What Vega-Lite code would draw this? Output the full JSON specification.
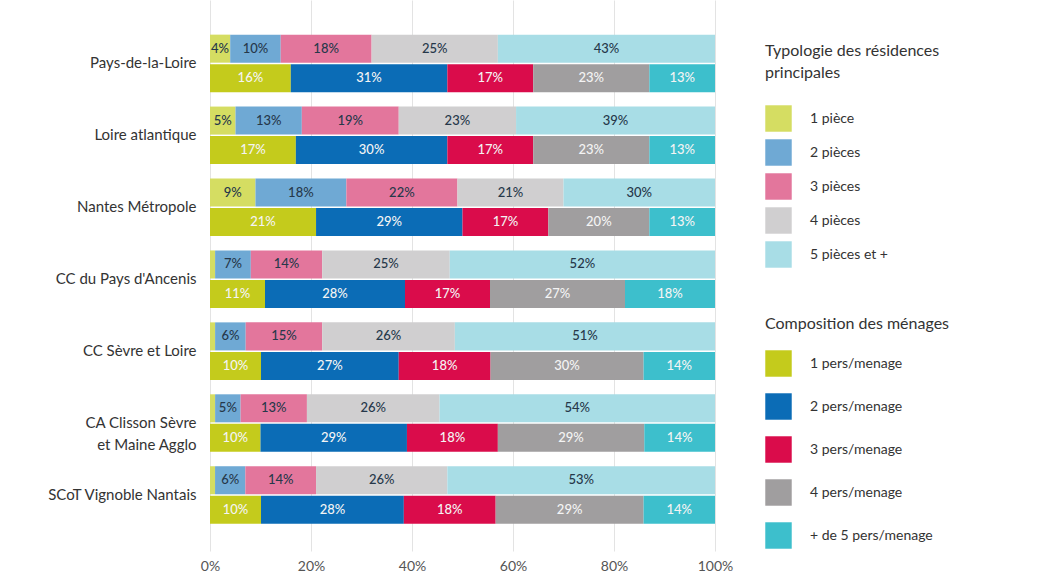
{
  "$schema": "https://vega.github.io/schema/vega-lite/v6.json",
  "width": 505,
  "height": 551,
  "autosize": {"type": "none"},
  "padding": {"left": 210, "top": 0, "right": 323, "bottom": 23},
  "background": "white",
  "config": {"view": {"stroke": null}, "font": "Lato"},
  "datasets": {
    "typo": [
      {"c": "Pays-de-la-Loire", "k": "1 pièce", "o": 1, "v": 0.04},
      {"c": "Pays-de-la-Loire", "k": "2 pièces", "o": 2, "v": 0.10},
      {"c": "Pays-de-la-Loire", "k": "3 pièces", "o": 3, "v": 0.18},
      {"c": "Pays-de-la-Loire", "k": "4 pièces", "o": 4, "v": 0.25},
      {"c": "Pays-de-la-Loire", "k": "5 pièces et +", "o": 5, "v": 0.43},
      {"c": "Loire atlantique", "k": "1 pièce", "o": 1, "v": 0.05},
      {"c": "Loire atlantique", "k": "2 pièces", "o": 2, "v": 0.13},
      {"c": "Loire atlantique", "k": "3 pièces", "o": 3, "v": 0.19},
      {"c": "Loire atlantique", "k": "4 pièces", "o": 4, "v": 0.23},
      {"c": "Loire atlantique", "k": "5 pièces et +", "o": 5, "v": 0.39},
      {"c": "Nantes Métropole", "k": "1 pièce", "o": 1, "v": 0.09},
      {"c": "Nantes Métropole", "k": "2 pièces", "o": 2, "v": 0.18},
      {"c": "Nantes Métropole", "k": "3 pièces", "o": 3, "v": 0.22},
      {"c": "Nantes Métropole", "k": "4 pièces", "o": 4, "v": 0.21},
      {"c": "Nantes Métropole", "k": "5 pièces et +", "o": 5, "v": 0.30},
      {"c": "CC du Pays d'Ancenis", "k": "1 pièce", "o": 1, "v": 0.01},
      {"c": "CC du Pays d'Ancenis", "k": "2 pièces", "o": 2, "v": 0.07},
      {"c": "CC du Pays d'Ancenis", "k": "3 pièces", "o": 3, "v": 0.14},
      {"c": "CC du Pays d'Ancenis", "k": "4 pièces", "o": 4, "v": 0.25},
      {"c": "CC du Pays d'Ancenis", "k": "5 pièces et +", "o": 5, "v": 0.52},
      {"c": "CC Sèvre et Loire", "k": "1 pièce", "o": 1, "v": 0.01},
      {"c": "CC Sèvre et Loire", "k": "2 pièces", "o": 2, "v": 0.06},
      {"c": "CC Sèvre et Loire", "k": "3 pièces", "o": 3, "v": 0.15},
      {"c": "CC Sèvre et Loire", "k": "4 pièces", "o": 4, "v": 0.26},
      {"c": "CC Sèvre et Loire", "k": "5 pièces et +", "o": 5, "v": 0.51},
      {"c": "CA Clisson Sèvre et Maine Agglo", "k": "1 pièce", "o": 1, "v": 0.01},
      {"c": "CA Clisson Sèvre et Maine Agglo", "k": "2 pièces", "o": 2, "v": 0.05},
      {"c": "CA Clisson Sèvre et Maine Agglo", "k": "3 pièces", "o": 3, "v": 0.13},
      {"c": "CA Clisson Sèvre et Maine Agglo", "k": "4 pièces", "o": 4, "v": 0.26},
      {"c": "CA Clisson Sèvre et Maine Agglo", "k": "5 pièces et +", "o": 5, "v": 0.54},
      {"c": "SCoT Vignoble Nantais", "k": "1 pièce", "o": 1, "v": 0.01},
      {"c": "SCoT Vignoble Nantais", "k": "2 pièces", "o": 2, "v": 0.06},
      {"c": "SCoT Vignoble Nantais", "k": "3 pièces", "o": 3, "v": 0.14},
      {"c": "SCoT Vignoble Nantais", "k": "4 pièces", "o": 4, "v": 0.26},
      {"c": "SCoT Vignoble Nantais", "k": "5 pièces et +", "o": 5, "v": 0.53}
    ],
    "compo": [
      {"c": "Pays-de-la-Loire", "k": "1 pers/menage", "o": 1, "v": 0.16},
      {"c": "Pays-de-la-Loire", "k": "2 pers/menage", "o": 2, "v": 0.31},
      {"c": "Pays-de-la-Loire", "k": "3 pers/menage", "o": 3, "v": 0.17},
      {"c": "Pays-de-la-Loire", "k": "4 pers/menage", "o": 4, "v": 0.23},
      {"c": "Pays-de-la-Loire", "k": "+ de 5 pers/menage", "o": 5, "v": 0.13},
      {"c": "Loire atlantique", "k": "1 pers/menage", "o": 1, "v": 0.17},
      {"c": "Loire atlantique", "k": "2 pers/menage", "o": 2, "v": 0.30},
      {"c": "Loire atlantique", "k": "3 pers/menage", "o": 3, "v": 0.17},
      {"c": "Loire atlantique", "k": "4 pers/menage", "o": 4, "v": 0.23},
      {"c": "Loire atlantique", "k": "+ de 5 pers/menage", "o": 5, "v": 0.13},
      {"c": "Nantes Métropole", "k": "1 pers/menage", "o": 1, "v": 0.21},
      {"c": "Nantes Métropole", "k": "2 pers/menage", "o": 2, "v": 0.29},
      {"c": "Nantes Métropole", "k": "3 pers/menage", "o": 3, "v": 0.17},
      {"c": "Nantes Métropole", "k": "4 pers/menage", "o": 4, "v": 0.20},
      {"c": "Nantes Métropole", "k": "+ de 5 pers/menage", "o": 5, "v": 0.13},
      {"c": "CC du Pays d'Ancenis", "k": "1 pers/menage", "o": 1, "v": 0.11},
      {"c": "CC du Pays d'Ancenis", "k": "2 pers/menage", "o": 2, "v": 0.28},
      {"c": "CC du Pays d'Ancenis", "k": "3 pers/menage", "o": 3, "v": 0.17},
      {"c": "CC du Pays d'Ancenis", "k": "4 pers/menage", "o": 4, "v": 0.27},
      {"c": "CC du Pays d'Ancenis", "k": "+ de 5 pers/menage", "o": 5, "v": 0.18},
      {"c": "CC Sèvre et Loire", "k": "1 pers/menage", "o": 1, "v": 0.10},
      {"c": "CC Sèvre et Loire", "k": "2 pers/menage", "o": 2, "v": 0.27},
      {"c": "CC Sèvre et Loire", "k": "3 pers/menage", "o": 3, "v": 0.18},
      {"c": "CC Sèvre et Loire", "k": "4 pers/menage", "o": 4, "v": 0.30},
      {"c": "CC Sèvre et Loire", "k": "+ de 5 pers/menage", "o": 5, "v": 0.14},
      {"c": "CA Clisson Sèvre et Maine Agglo", "k": "1 pers/menage", "o": 1, "v": 0.10},
      {"c": "CA Clisson Sèvre et Maine Agglo", "k": "2 pers/menage", "o": 2, "v": 0.29},
      {"c": "CA Clisson Sèvre et Maine Agglo", "k": "3 pers/menage", "o": 3, "v": 0.18},
      {"c": "CA Clisson Sèvre et Maine Agglo", "k": "4 pers/menage", "o": 4, "v": 0.29},
      {"c": "CA Clisson Sèvre et Maine Agglo", "k": "+ de 5 pers/menage", "o": 5, "v": 0.14},
      {"c": "SCoT Vignoble Nantais", "k": "1 pers/menage", "o": 1, "v": 0.10},
      {"c": "SCoT Vignoble Nantais", "k": "2 pers/menage", "o": 2, "v": 0.28},
      {"c": "SCoT Vignoble Nantais", "k": "3 pers/menage", "o": 3, "v": 0.18},
      {"c": "SCoT Vignoble Nantais", "k": "4 pers/menage", "o": 4, "v": 0.29},
      {"c": "SCoT Vignoble Nantais", "k": "+ de 5 pers/menage", "o": 5, "v": 0.14}
    ]
  },
  "layer": [
    {
      "data": {"name": "typo"},
      "mark": {"type": "bar"},
      "encoding": {
        "y": {"field": "c", "type": "nominal",
          "scale": {"domain": ["Pays-de-la-Loire", "Loire atlantique", "Nantes Métropole", "CC du Pays d'Ancenis", "CC Sèvre et Loire", "CA Clisson Sèvre et Maine Agglo", "SCoT Vignoble Nantais"], "paddingInner": 0.2, "paddingOuter": 0.43, "align": 0.56},
          "axis": {"title": null, "domain": false, "ticks": false, "labelFontSize": 15, "labelColor": "#333", "labelPadding": 14, "labelLineHeight": 22,
            "labelExpr": "datum.label == 'CA Clisson Sèvre et Maine Agglo' ? ['CA Clisson Sèvre', 'et Maine Agglo'] : datum.label"}},
        "yOffset": {"datum": "T", "type": "nominal", "scale": {"domain": ["T", "C"], "paddingInner": 0.05}},
        "x": {"field": "v", "type": "quantitative", "stack": "normalize",
          "axis": {"title": null, "format": ".0%", "values": [0, 0.2, 0.4, 0.6, 0.8, 1], "grid": true, "gridColor": "#e3e3e3", "domain": false, "ticks": false, "labelFontSize": 14, "labelColor": "#555", "labelPadding": 8, "labelFlush": false}},
        "order": {"field": "o"},
        "color": {"field": "k", "type": "nominal",
          "scale": {"domain": ["1 pièce", "2 pièces", "3 pièces", "4 pièces", "5 pièces et +"], "range": ["#d5dd62", "#6fa9d4", "#e3769c", "#d0cfd0", "#a8dde6"]},
          "legend": {"title": ["Typologie des résidences", "principales"], "orient": "none", "legendX": 555, "legendY": 43, "symbolType": "square", "symbolSize": 700, "symbolStrokeWidth": 0, "symbolOpacity": 1, "rowPadding": 7, "labelFontSize": 14, "labelColor": "#333", "labelOffset": 18, "titleFontSize": 16, "titleFontWeight": "normal", "titleColor": "#333", "titleLineHeight": 22, "titlePadding": 24, "titleLimit": 320}}
      }
    },
    {
      "data": {"name": "compo"},
      "mark": {"type": "bar"},
      "encoding": {
        "y": {"field": "c", "type": "nominal"},
        "yOffset": {"datum": "C", "type": "nominal"},
        "x": {"field": "v", "type": "quantitative", "stack": "normalize"},
        "order": {"field": "o"},
        "color": {"field": "k", "type": "nominal",
          "scale": {"domain": ["1 pers/menage", "2 pers/menage", "3 pers/menage", "4 pers/menage", "+ de 5 pers/menage"], "range": ["#c4cb1c", "#0b6cb6", "#da0c4b", "#a09e9f", "#3dbfcc"]},
          "legend": {"title": "Composition des ménages", "orient": "none", "legendX": 555, "legendY": 316, "symbolType": "square", "symbolSize": 700, "symbolStrokeWidth": 0, "symbolOpacity": 1, "rowPadding": 16, "labelFontSize": 14, "labelColor": "#333", "labelOffset": 18, "titleFontSize": 16, "titleFontWeight": "normal", "titleColor": "#333", "titlePadding": 18, "titleLimit": 320}}
      }
    },
    {
      "data": {"name": "typo"},
      "mark": {"type": "text", "fontSize": 13, "fontWeight": 500, "color": "#26384a"},
      "encoding": {
        "y": {"field": "c", "type": "nominal"},
        "yOffset": {"datum": "T", "type": "nominal"},
        "x": {"field": "v", "type": "quantitative", "stack": "normalize", "bandPosition": 0.5},
        "order": {"field": "o"},
        "text": {"field": "v", "format": ".0%"},
        "opacity": {"condition": {"test": "datum.v < 0.03", "value": 0}, "value": 1}
      }
    },
    {
      "data": {"name": "compo"},
      "mark": {"type": "text", "fontSize": 13, "fontWeight": 500, "color": "#f4f4f4"},
      "encoding": {
        "y": {"field": "c", "type": "nominal"},
        "yOffset": {"datum": "C", "type": "nominal"},
        "x": {"field": "v", "type": "quantitative", "stack": "normalize", "bandPosition": 0.5},
        "order": {"field": "o"},
        "text": {"field": "v", "format": ".0%"}
      }
    }
  ],
  "resolve": {"scale": {"color": "independent"}}
}
